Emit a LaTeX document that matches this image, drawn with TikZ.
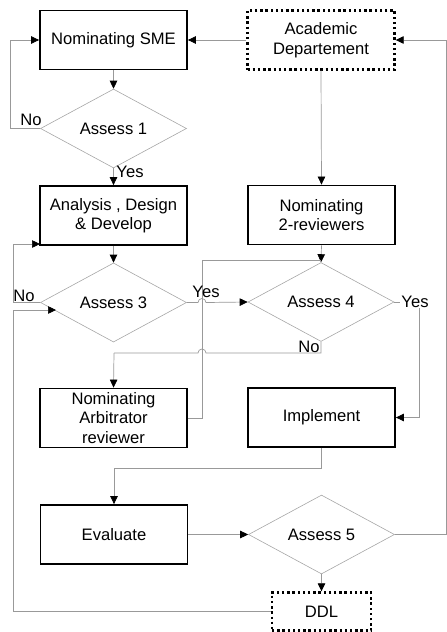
\documentclass[tikz,border=0pt]{standalone}
\usepackage{fontspec}
\setmainfont{Liberation Sans}
\usetikzlibrary{arrows.meta,shapes.geometric}

\begin{document}
\begin{tikzpicture}[x=1pt,y=-1pt,
  txt/.style={font=\fontsize{16.6}{19.5}\selectfont},
  box/.style={txt, draw=black, line width=1.8pt, minimum width=147pt,
              minimum height=59pt, align=center, inner sep=0pt},
  dotbox/.style={box, line width=2.4pt, dash pattern=on 2.4pt off 2.8pt},
  dec/.style={txt, diamond, draw=black!35, line width=0.6pt, inner sep=0pt,
              minimum width=146pt, minimum height=68pt},
  conn/.style={draw=black!40, line width=0.7pt},
  arr/.style={conn, -{Triangle[length=8pt,width=7.5pt,fill=black,color=black]}},
  lbl/.style={txt, inner sep=1pt}
]
\useasboundingbox (0,0) rectangle (447,632);

% process boxes
\node[box]    (sme)  at (113.5,40)  {Nominating SME};
\node[dotbox] (acad) at (321,40)    {Academic\\Departement};
\node[box]    (ana)  at (113.5,215.5) {Analysis , Design\\\& Develop};
\node[box]    (rev)  at (321.5,215) {Nominating\\2-reviewers};
\node[box]    (arb)  at (113.5,418) {Nominating\\Arbitrator\\reviewer};
\node[box]    (impl) at (321.5,417.5) {Implement};
\node[box]    (eval) at (114,534.5) {Evaluate};
\node[dotbox, minimum width=99pt, minimum height=38pt] (ddl) at (321.5,611.5) {DDL};

% decisions
\node[dec, minimum height=57pt] (a1) at (113.5,128.5) {Assess 1};
\node[dec] (a3) at (113.5,302.5) {Assess 3};
\node[dec, minimum height=56pt] (a4) at (321,302) {Assess 4};
\node[dec, minimum height=57pt] (a5) at (321.5,534.5) {Assess 5};

% turning points of the connectors
\coordinate (a1no)   at (10,128.5);
\coordinate (a3no)   at (13,302.5);
\coordinate (anain)  at (40,244);
\coordinate (rtop)   at (446,40);
\coordinate (rbot)   at (446,534.5);
\coordinate (a4yes)  at (419,302);
\coordinate (a4no)   at (321,353);
\coordinate (arbx)   at (202,418);
\coordinate (arbtop) at (202,260);
\coordinate (a4top)  at (321,260);
\coordinate (impdn)  at (321.5,468);
\coordinate (ddlx)   at (13,611.5);
\coordinate (ddlup)  at (13,310);
\coordinate (a3in)   at (56,310);

% connectors
\draw[arr] (acad.west) -- (sme.east);
\draw[arr] (a5.east) -- (rbot) -- (rtop) -- (acad.east);
\draw[arr] (sme.south) -- (a1.north);
\draw[arr] (a1.west) -- (a1no) |- (sme.west);
\draw[arr] (a1.south) -- (ana.north);
\draw[arr] (acad.south) -- (rev.north);
\draw[arr] (ana.south) -- (a3.north);
\draw[arr] (rev.south) -- (a4.north);
\draw[arr] (a3.east) -- (198,302.5) arc[start angle=180,end angle=360,radius=4] -- (a4.west);
\draw[arr] (a3.west) -- (a3no) |- (anain);
\draw[conn] (a4.east) -- (a4yes);
\draw[arr] (a4yes) |- (impl.east);
\draw[conn] (a4.south) -- (a4no) -- (206,353) arc[start angle=0,end angle=-180,radius=4] -- (114,353);
\draw[arr] (114,353) -- (arb.north);
\draw[conn] (arb.east) -- (arbx) -- (arbtop) -- (a4top);
\draw[arr] (impl.south) -- (impdn) -| (eval.north);
\draw[arr] (eval.east) -- (a5.west);
\draw[arr] (a5.south) -- (ddl.north);
\draw[arr] (ddl.west) -- (ddlx) -- (ddlup) -- (a3in);

% branch labels
\node[lbl] (l1no)  at (31,119.5) {No};
\node[lbl] (l1yes) at (130,171.5) {Yes};
\node[lbl] (l3no)  at (24,295.5) {No};
\node[lbl] (l3yes) at (206,291.5) {Yes};
\node[lbl, fill=white] (l4yes) at (415,301.5) {Yes};
\node[lbl] (l4no)  at (309,346.5) {No};
\end{tikzpicture}
\end{document}
